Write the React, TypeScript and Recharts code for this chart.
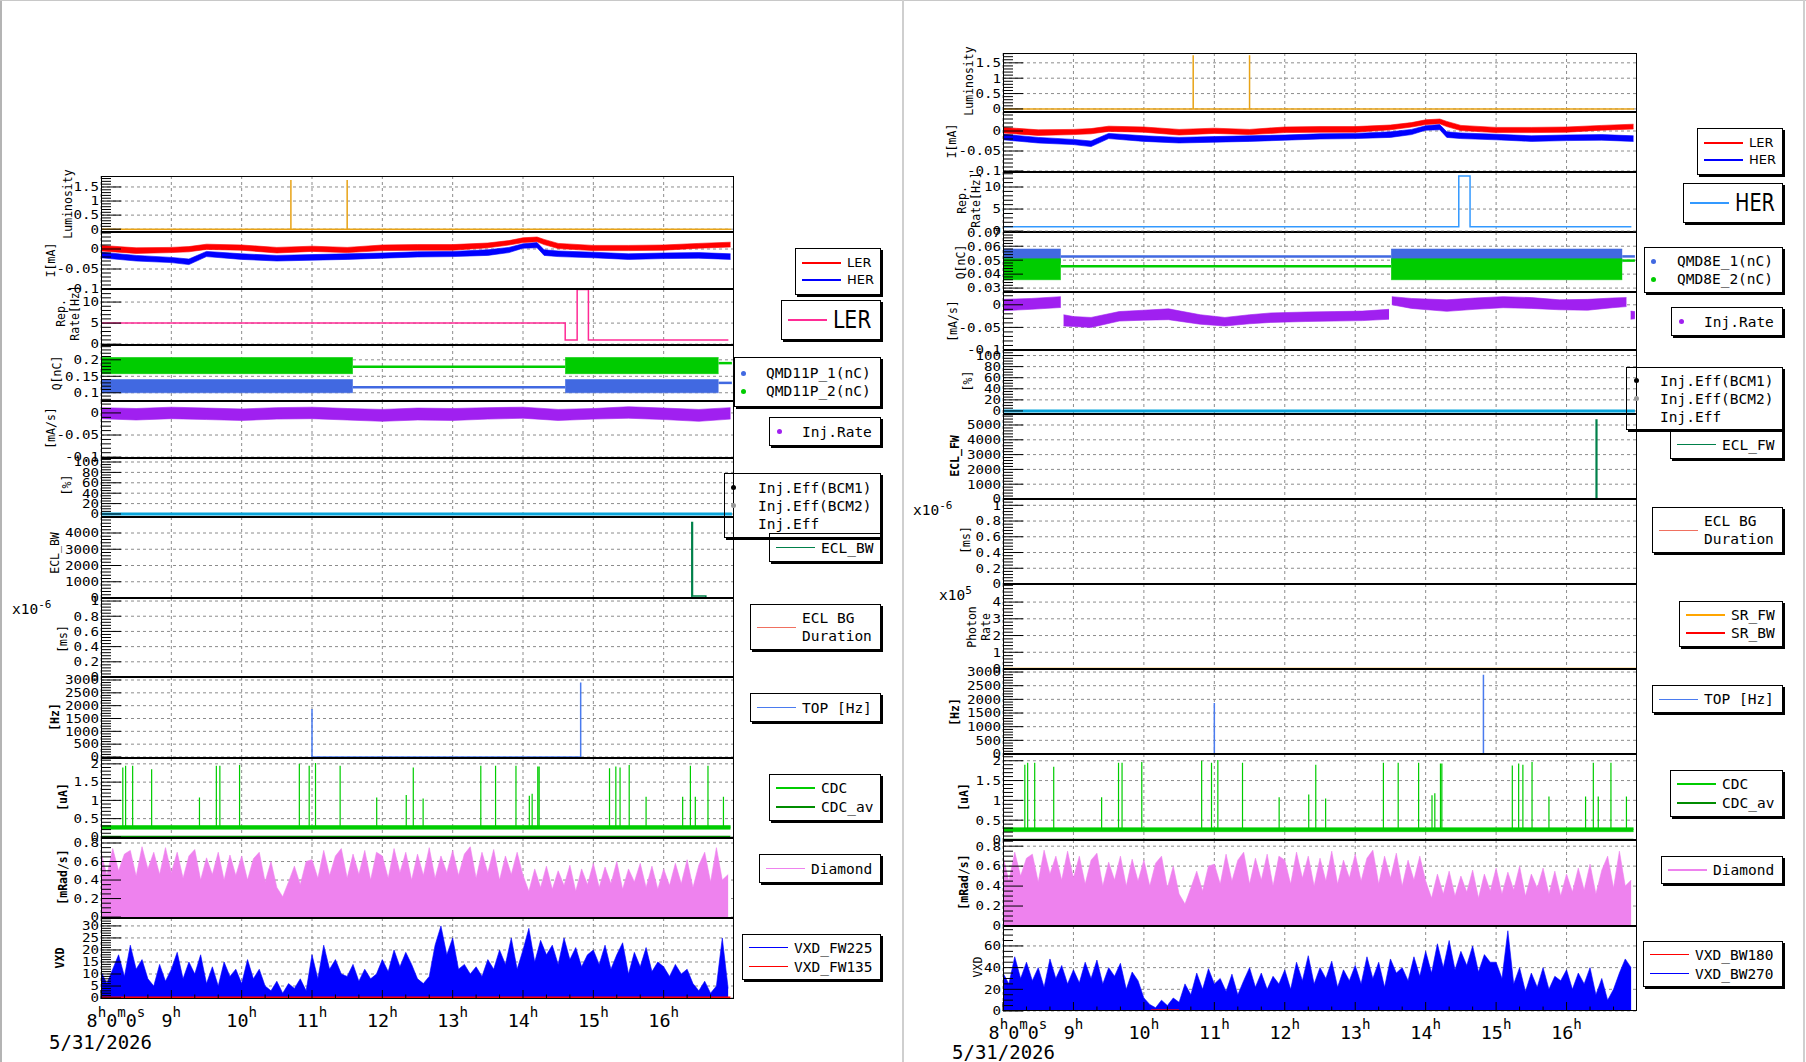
import React from "react";
import { ComposedChart, XAxis, YAxis, CartesianGrid, Line, Area } from "recharts";

const MONO = '"DejaVu Sans Mono", monospace';
const SANS = '"DejaVu Sans", sans-serif';

// ---- time axis (hours of the day) ----
const HOURS = [8, 9, 10, 11, 12, 13, 14, 15, 16, 17];
const HOUR_LABELS = ["8h0m0s", "9h", "10h", "11h", "12h", "13h", "14h", "15h", "16h", ""];
const DATE_LABEL = "5/31/2026";
const XTICKS = HOURS.flatMap((h) => (h < 17 ? [h, h + 1 / 3, h + 2 / 3] : [h]));

// ---- luminosity ----
const LUM_RANGE = [8.0, 16.96];
const LUM_SPIKE_T = [10.7, 11.5];
const LUM_SPIKE_V = [1.75, 1.75];

// ---- beam currents I[mA] (noisy bands) ----
const CUR_T = [8.0, 8.5, 9.0, 9.25, 9.5, 10.0, 10.5, 11.0, 11.5, 12.0, 12.5, 13.0, 13.5, 13.8, 14.0, 14.2, 14.3, 14.5, 15.0, 15.5, 16.0, 16.5, 16.95];
const LER_HI = [0.009, 0.003, 0.004, 0.006, 0.012, 0.010, 0.004, 0.007, 0.004, 0.010, 0.011, 0.011, 0.015, 0.021, 0.028, 0.030, 0.024, 0.014, 0.009, 0.009, 0.010, 0.014, 0.017];
const LER_LO = [-0.005, -0.011, -0.009, -0.007, -0.001, -0.003, -0.010, -0.006, -0.009, -0.004, -0.003, -0.003, 0.003, 0.010, 0.016, 0.018, 0.011, 0.001, -0.004, -0.004, -0.003, 0.002, 0.005];
const HER_HI = [-0.008, -0.016, -0.021, -0.025, -0.006, -0.012, -0.016, -0.014, -0.012, -0.010, -0.007, -0.006, -0.002, 0.004, 0.013, 0.016, -0.002, -0.005, -0.008, -0.012, -0.010, -0.009, -0.012];
const HER_LO = [-0.022, -0.030, -0.034, -0.039, -0.019, -0.026, -0.030, -0.028, -0.026, -0.023, -0.020, -0.019, -0.016, -0.009, 0.002, 0.003, -0.016, -0.019, -0.022, -0.026, -0.024, -0.023, -0.026];

// ---- repetition rate ----
const REP_LER_T = [8.0, 14.6, 14.6, 14.77, 14.77, 14.93, 14.93, 16.92];
const REP_LER_V = [5, 5, 1, 1, 13, 13, 1, 1];
const REP_HER_T = [8.0, 14.47, 14.47, 14.63, 14.63, 16.92];
const REP_HER_V = [1, 1, 12.5, 12.5, 1, 1];

// ---- bunch charge Q[nC] ----
const QL_BAND_SEGS = [[8.0, 11.58], [14.6, 16.78]];
const QL_FLAT_SEGS = [[11.58, 14.6], [16.78, 16.97]];
const QMD11P_1_BAND = [0.1, 0.14];
const QMD11P_1_FLAT = [0.1166, 0.13];
const QMD11P_2_BAND = [0.158, 0.207];
const QMD11P_2_FLAT = [0.179, 0.19];

const QR_BAND_SEGS = [[8.0, 8.82], [13.51, 16.79]];
const QR_FLAT_SEGS = [[8.82, 13.51], [16.79, 16.97]];
const QMD8E_1_BAND = [0.048, 0.058];
const QMD8E_1_FLAT = [0.0527, 0.0527];
const QMD8E_2_BAND = [0.036, 0.051];
const QMD8E_2_FLAT = [0.0457, 0.0497];

// ---- injection rate [mA/s] ----
const INJL_T = [8.0, 8.5, 9.0, 9.5, 10.0, 10.5, 11.0, 11.5, 12.0, 12.5, 13.0, 13.5, 14.0, 14.5, 15.0, 15.5, 16.0, 16.5, 16.95];
const INJL_HI = [0.012, 0.010, 0.013, 0.011, 0.009, 0.012, 0.013, 0.010, 0.008, 0.011, 0.010, 0.012, 0.013, 0.008, 0.010, 0.014, 0.011, 0.008, 0.012];
const INJL_LO = [-0.013, -0.016, -0.013, -0.015, -0.017, -0.014, -0.013, -0.016, -0.019, -0.016, -0.017, -0.014, -0.012, -0.017, -0.014, -0.012, -0.015, -0.019, -0.014];

const INJR1_T = [8.0, 8.4, 8.82];
const INJR1_HI = [0.012, 0.014, 0.018];
const INJR1_LO = [-0.013, -0.01, -0.006];
const INJR2_T = [8.86, 9.0, 9.25, 9.65, 10.0, 10.35, 10.8, 11.15, 11.5, 11.8, 12.3, 12.7, 13.1, 13.48];
const INJR2_HI = [-0.022, -0.026, -0.028, -0.015, -0.012, -0.009, -0.022, -0.028, -0.022, -0.018, -0.016, -0.015, -0.014, -0.01];
const INJR2_LO = [-0.047, -0.048, -0.05, -0.036, -0.034, -0.033, -0.043, -0.047, -0.042, -0.039, -0.037, -0.036, -0.035, -0.032];
const INJR3_T = [13.52, 13.8, 14.3, 14.7, 15.1, 15.5, 15.9, 16.3, 16.65, 16.85];
const INJR3_HI = [0.018, 0.014, 0.011, 0.015, 0.018, 0.016, 0.011, 0.012, 0.015, 0.016];
const INJR3_LO = [0.0, -0.008, -0.0145, -0.01, -0.0065, -0.008, -0.011, -0.012, -0.0065, -0.004];
const INJR4_T = [16.91, 16.97];
const INJR4_HI = [-0.014, -0.015];
const INJR4_LO = [-0.032, -0.031];

// ---- injection efficiency ----
const EFF_T = [8.0, 16.97];
const EFF_V = [0, 0];

// ---- ECL ----
const ECL_BW_T = [8.0, 16.4, 16.4, 16.41, 16.41, 16.6, 16.6, 16.97];
const ECL_BW_V = [0, 0, 4650, 4650, 120, 120, 0, 0];
const ECL_FW_T = [8.0, 16.42, 16.42, 16.43, 16.43, 16.97];
const ECL_FW_V = [0, 0, 5330, 5330, 0, 0];

// ---- SR photon rate ----
const SR_FW_T = [8.0, 17.0];
const SR_FW_V = [0, 0];

// ---- TOP ----
const TOP_T = [11.0, 11.0, 11.0, 14.82, 14.82];
const TOP_V = [0, 1870, 0, 0, 2900];

// ---- CDC ----
const CDC_RANGE = [8.0, 16.95];
const CDC_BASE = [0.21, 0.31];
const CDC_LEVEL = 0.27;
const CDC_AV_V = [0.005, 0.005];
const CDC_SPIKE_T = [8.31, 8.35, 8.45, 8.72, 9.4, 9.64, 9.69, 9.97, 10.82, 10.96, 11.05, 11.4, 11.92, 12.34, 12.44, 12.58, 13.4, 13.61, 13.9, 14.09, 14.13, 14.21, 14.23, 15.23, 15.32, 15.38, 15.51, 15.75, 16.27, 16.38, 16.45, 16.63, 16.85];
const CDC_SPIKE_V = [1.9, 1.95, 1.95, 1.85, 1.08, 1.95, 1.95, 1.97, 2.0, 1.95, 2.02, 1.95, 1.08, 1.15, 1.9, 1.05, 1.95, 1.95, 1.95, 1.13, 1.18, 1.93, 1.93, 1.88, 1.93, 1.9, 1.97, 1.1, 1.1, 1.95, 1.1, 1.95, 1.1];

// ---- Diamond dose rate, 5-minute envelope from 8:00 ----
const SAMPLE_START = 8;
const SAMPLE_MIN = 5;
const DIAMOND = [
  0.70, 0.45, 0.74, 0.50, 0.68, 0.72, 0.44, 0.76, 0.52, 0.70, 0.46, 0.75,
  0.48, 0.70, 0.42, 0.66, 0.73, 0.40, 0.64, 0.46, 0.70, 0.40, 0.67, 0.45,
  0.66, 0.40, 0.63, 0.70, 0.38, 0.60, 0.32, 0.22, 0.38, 0.55, 0.35, 0.60,
  0.62, 0.42, 0.72, 0.45, 0.66, 0.74, 0.42, 0.68, 0.46, 0.72, 0.40, 0.70,
  0.66, 0.42, 0.74, 0.48, 0.70, 0.40, 0.68, 0.45, 0.75, 0.42, 0.66, 0.48,
  0.72, 0.45, 0.68, 0.76, 0.42, 0.70, 0.48, 0.73, 0.40, 0.66, 0.46, 0.70,
  0.45, 0.28, 0.52, 0.32, 0.55, 0.30, 0.50, 0.34, 0.56, 0.28, 0.52, 0.35,
  0.58, 0.32, 0.54, 0.36, 0.60, 0.30, 0.52, 0.38, 0.58, 0.32, 0.55, 0.30,
  0.52, 0.34, 0.58, 0.36, 0.62, 0.32, 0.56, 0.70, 0.38, 0.75, 0.40, 0.46,
];

// ---- VXD, 5-minute envelope from 8:00 ----
const VXD_FW225 = [
  11, 6, 12, 18, 9, 22, 12, 16, 8, 5, 14, 7,
  12, 19, 8, 15, 10, 18, 6, 13, 5, 15, 9, 12,
  6, 16, 8, 12, 5, 3, 7, 2, 6, 4, 8, 3,
  18, 8, 22, 12, 16, 10, 9, 14, 7, 12, 8, 10,
  16, 11, 20, 13, 19, 14, 8, 6, 9, 22, 30, 18,
  25, 12, 14, 10, 13, 9, 16, 12, 20, 14, 25, 12,
  20, 29, 15, 24, 18, 22, 14, 25, 16, 21, 13, 18,
  20, 14, 22, 12, 18, 23, 10, 19, 13, 21, 11, 15,
  13, 9, 14, 10, 12, 6, 3, 7, 2, 5, 25, 4,
];
const VXD_FW135_V = [0, 0];
const VXD_BW270 = [
  35, 25, 50, 30, 45, 28, 40, 22, 48, 30, 42, 25,
  38, 26, 45, 30, 47, 25, 40, 32, 44, 20, 36, 28,
  12, 6, 3, 10, 5, 12, 8, 25, 15, 35, 20, 39,
  25, 30, 18, 34, 15, 28, 40, 22, 35, 20, 32, 25,
  38, 20, 45, 28, 51, 25, 40, 30, 46, 22, 38, 28,
  42, 25, 50, 30, 45, 22, 48, 35, 40, 28, 50, 32,
  55, 35, 62, 40, 65, 38, 55, 42, 60, 36, 52, 45,
  45, 30, 74, 25, 40, 18, 35, 22, 40, 20, 32, 28,
  38, 20, 35, 25, 40, 15, 30, 10, 20, 35, 48, 40,
];
const VXD_BW180_T = [10.1, 10.5];
const VXD_BW180_V = [0.6, 0.6];

const C = {
  lum: "#e8a317", ler: "#ff0000", her: "#0000ff", repLer: "#ff2b95", repHer: "#3399ff",
  q1: "#4169e1", q2: "#00cc00", inj: "#a020f0", eff: "#0aa6dc", ecl: "#00804a",
  eclbg: "#f07060", top: "#4a7bef", cdc: "#00cc00", cdcAv: "#008c00", dia: "#ee82ee",
  vxdB: "#0000ff", vxdR: "#ff0000", srFw: "#ffa500", srBw: "#ff0000",
};

// ---- data table builders ----
const pts = (t: number[], v: number[]) => t.map((x, i) => ({ t: x, v: v[i] }));
const band = (t: number[], lo: number[], hi: number[]) => t.map((x, i) => ({ t: x, r: [lo[i], hi[i]] }));
const rect = (seg: number[], lh: number[]) => seg.map((x) => ({ t: x, r: [lh[0], lh[1]] }));
const flat = (seg: number[], v: number) => seg.map((x) => ({ t: x, v }));
const sampled = (vals: number[]) => vals.map((v, i) => ({ t: SAMPLE_START + (i * SAMPLE_MIN) / 60, v }));
function spikeLine(range: number[], ts: number[], vs: number[], base: number) {
  const out = [{ t: range[0], v: base }];
  ts.forEach((t, i) => out.push({ t, v: base }, { t, v: vs[i] }, { t, v: base }));
  out.push({ t: range[1], v: base });
  return out;
}

const LUM_DATA = spikeLine(LUM_RANGE, LUM_SPIKE_T, LUM_SPIKE_V, 0);
const LER_DATA = band(CUR_T, LER_LO, LER_HI);
const HER_DATA = band(CUR_T, HER_LO, HER_HI);
const CDC_DATA = spikeLine(CDC_RANGE, CDC_SPIKE_T, CDC_SPIKE_V, CDC_LEVEL);
const CDC_BAND = rect(CDC_RANGE, CDC_BASE);
const CDC_AV = pts(CDC_RANGE, CDC_AV_V);
const DIA_DATA = sampled(DIAMOND);

// ---- series element helpers ----
const ln = (key: string, data: any[], color: string, w = 1) => (
  <Line key={key} data={data} dataKey="v" type="linear" stroke={color} strokeWidth={w} dot={false} isAnimationActive={false} />
);
const rng = (key: string, data: any[], color: string) => (
  <Area key={key} data={data} dataKey="r" type="linear" stroke={color} strokeWidth={0.6} fill={color} fillOpacity={1} isAnimationActive={false} />
);
const fill = (key: string, data: any[], color: string) => (
  <Area key={key} data={data} dataKey="v" type="linear" baseValue={0} stroke={color} strokeWidth={0.6} fill={color} fillOpacity={1} isAnimationActive={false} />
);

// ---- axes ----
const fmt = (v: number) => String(Math.round(v * 1e6) / 1e6);
function buildTicks(d: number[], step: number) {
  const out: number[] = [];
  for (let k = Math.ceil(d[0] / step - 1e-9); k * step <= d[1] + 1e-9; k++) out.push(Math.round(k * step * 1e6) / 1e6);
  return out;
}

function YTick(props: any) {
  const { x, y, payload, majors, fs } = props;
  const v = payload.value;
  const major = majors.some((m: number) => Math.abs(m - v) < 1e-9);
  return (
    <g>
      <line x1={x} x2={x + (major ? 20 : 10)} y1={y} y2={y} stroke="#000" strokeWidth={1} />
      {major && (
        <text transform={`translate(${x - 2},${y}) scale(1.18,1)`} dy="0.36em" textAnchor="end" fontFamily={MONO} fontSize={fs} fill="#000">
          {fmt(v)}
        </text>
      )}
    </g>
  );
}

function XTick(props: any) {
  const { x, y, payload, showLabel } = props;
  const v = payload.value;
  const hour = Math.abs(v - Math.round(v)) < 1e-6;
  const idx = HOURS.indexOf(Math.round(v));
  const label = showLabel && hour && idx >= 0 ? HOUR_LABELS[idx] : "";
  const parts = label ? Array.from(label.matchAll(/(\d+)([hms])/g)) : [];
  return (
    <g>
      <line x1={x} x2={x} y1={y} y2={y - (hour ? 9 : 4.5)} stroke="#000" />
      {parts.length > 0 && (
        <text transform={`translate(${x + (idx === 0 ? 15 : 0)},${y + 28}) scale(1.05,1)`} textAnchor="middle" fontFamily={MONO} fontSize={17.5} fill="#000">
          {parts.flatMap((m, i) => [
            <tspan key={`n${i}`} dy={i === 0 ? 0 : 10}>{m[1]}</tspan>,
            <tspan key={`s${i}`} dy={-10} fontSize={13.5}>{m[2]}</tspan>,
          ])}
        </text>
      )}
    </g>
  );
}

const AXW = 70;
const PAD = 12;
type PanelProps = {
  x0: number; x1: number; y0: number; y1: number;
  domain: number[]; majors: number[]; minor: number;
  fs?: number; bottomAxis?: boolean; series: React.ReactNode[];
};

function Panel({ x0, x1, y0, y1, domain, majors, minor, fs = 12, bottomAxis = false, series }: PanelProps) {
  const w = x1 - x0;
  const h = y1 - y0;
  const extra = bottomAxis ? 40 : 0;
  const yticks = buildTicks(domain, minor);
  return (
    <>
      <div style={{ position: "absolute", left: x0 - AXW, top: y0 - PAD }}>
        <ComposedChart width={w + AXW} height={h + extra + 2 * PAD} margin={{ top: PAD, right: 0, bottom: PAD, left: 0 }}>
          <CartesianGrid stroke="#8c8c8c" strokeDasharray="3 3" horizontalValues={majors} verticalValues={HOURS} />
          <XAxis type="number" dataKey="t" domain={[8, 17]} ticks={XTICKS} interval={0} height={extra}
            axisLine={false} tickLine={false} tickSize={0} tickMargin={0} allowDataOverflow
            tick={(p: any) => <XTick {...p} showLabel={bottomAxis} />} />
          <YAxis type="number" domain={domain} ticks={yticks} interval={0} width={AXW}
            axisLine={false} tickLine={false} tickSize={0} tickMargin={0} allowDataOverflow
            tick={(p: any) => <YTick {...p} majors={majors} fs={fs} />} />
          {series}
        </ComposedChart>
      </div>
      <div style={{ position: "absolute", left: x0, top: y0, width: w, height: h, border: "1px solid #000", boxSizing: "border-box", pointerEvents: "none" }} />
    </>
  );
}

function YLabel({ cx, cy, text, bold = false, fs = 11.5 }: { cx: number; cy: number; text: string; bold?: boolean; fs?: number }) {
  return (
    <div style={{ position: "absolute", left: cx, top: cy, transform: "translate(-50%,-50%) rotate(-90deg)", fontFamily: MONO, fontSize: fs, fontWeight: bold ? "bold" : "normal", whiteSpace: "pre", textAlign: "center", lineHeight: "14px", color: "#000" }}>
      {text}
    </div>
  );
}

type LegItem = { label: string; color?: string; kind: "line" | "dot" | "none"; lw?: number };
function LegendBox({ x, y, w, h, items, fs = 14.5, font = MONO, rowH = 18, dotLeft = 5, textDot = 30, squeeze = 1 }: {
  x: number; y: number; w: number; h: number; items: LegItem[]; fs?: number; font?: string; rowH?: number; dotLeft?: number; textDot?: number; squeeze?: number;
}) {
  return (
    <div style={{ position: "absolute", left: x, top: y, width: w, height: h, border: "1px solid #000", boxShadow: "2px 2px 0 #000", boxSizing: "border-box", display: "flex", flexDirection: "column", justifyContent: "center" }}>
      {items.map((it, i) => (
        <div key={i} style={{ height: rowH, position: "relative" }}>
          {it.kind === "line" && (
            <div style={{ position: "absolute", left: 6, width: 39, top: rowH / 2 - (it.lw ?? 1.5) / 2, height: it.lw ?? 1.5, background: it.color }} />
          )}
          {it.kind === "dot" && (
            <div style={{ position: "absolute", left: dotLeft, top: rowH / 2 - 2.5, width: 5, height: 5, borderRadius: 3, background: it.color }} />
          )}
          <div style={{ position: "absolute", left: it.kind === "line" ? 51 : textDot, top: 0, height: rowH, display: "flex", alignItems: "center", fontFamily: font, fontSize: fs, lineHeight: "18px", whiteSpace: "pre", color: "#000", transform: `scaleX(${squeeze})`, transformOrigin: "left center" }}>
            {it.label}
          </div>
        </div>
      ))}
    </div>
  );
}

function Exp({ x, y, base, exp }: { x: number; y: number; base: string; exp: string }) {
  return (
    <div style={{ position: "absolute", left: x, top: y, fontFamily: MONO, fontSize: 14.5, color: "#000", whiteSpace: "pre" }}>
      {base}
      <sup style={{ fontSize: 11 }}>{exp}</sup>
    </div>
  );
}

const LX0 = 101, LX1 = 734, RX0 = 1003, RX1 = 1637;

export default function App() {
  return (
    <div style={{ position: "absolute", left: 0, top: 0, width: 1806, height: 1062, background: "#fff", overflow: "hidden" }}>
      <div style={{ position: "absolute", left: 0, top: 0, width: 2, height: 1062, background: "#b4b4b4" }} />
      <div style={{ position: "absolute", left: 0, top: 0, width: 1806, height: 1, background: "#c8c8c8" }} />
      <div style={{ position: "absolute", left: 902, top: 0, width: 2, height: 1062, background: "#cfcfcf" }} />
      <div style={{ position: "absolute", left: 1803, top: 0, width: 2, height: 1062, background: "#cfcfcf" }} />

      {/* ===== left column ===== */}
      <Panel x0={LX0} x1={LX1} y0={176} y1={232} domain={[-0.1, 1.89]} majors={[0, 0.5, 1, 1.5]} minor={0.1}
        series={[ln("lum", LUM_DATA, C.lum, 1.5)]} />
      <Panel x0={LX0} x1={LX1} y0={232} y1={289} domain={[-0.1, 0.0425]} majors={[-0.1, -0.05, 0]} minor={0.01}
        series={[rng("ler", LER_DATA, C.ler), rng("her", HER_DATA, C.her)]} />
      <Panel x0={LX0} x1={LX1} y0={289} y1={345} domain={[-0.2, 13.1]} majors={[0, 5, 10]} minor={1}
        series={[ln("rep", pts(REP_LER_T, REP_LER_V), C.repLer, 1.5)]} />
      <Panel x0={LX0} x1={LX1} y0={345} y1={401} domain={[0.075, 0.245]} majors={[0.1, 0.15, 0.2]} minor={0.01}
        series={[
          ...QL_BAND_SEGS.map((s, i) => rng(`q1b${i}`, rect(s, QMD11P_1_BAND), C.q1)),
          ...QL_FLAT_SEGS.map((s, i) => ln(`q1f${i}`, flat(s, QMD11P_1_FLAT[i]), C.q1, 2.5)),
          ...QL_BAND_SEGS.map((s, i) => rng(`q2b${i}`, rect(s, QMD11P_2_BAND), C.q2)),
          ...QL_FLAT_SEGS.map((s, i) => ln(`q2f${i}`, flat(s, QMD11P_2_FLAT[i]), C.q2, 2.5)),
        ]} />
      <Panel x0={LX0} x1={LX1} y0={401} y1={458} domain={[-0.102, 0.027]} majors={[-0.1, -0.05, 0]} minor={0.01}
        series={[rng("inj", band(INJL_T, INJL_LO, INJL_HI), C.inj)]} />
      <Panel x0={LX0} x1={LX1} y0={458} y1={517} domain={[-5.8, 107.7]} majors={[0, 20, 40, 60, 80, 100]} minor={5}
        series={[ln("eff", pts(EFF_T, EFF_V), C.eff, 3)]} />
      <Panel x0={LX0} x1={LX1} y0={517} y1={598} domain={[0, 4985]} majors={[0, 1000, 2000, 3000, 4000]} minor={200}
        series={[ln("eclbw", pts(ECL_BW_T, ECL_BW_V), C.ecl, 1.5)]} />
      <Panel x0={LX0} x1={LX1} y0={598} y1={677} domain={[0, 1.04]} majors={[0, 0.2, 0.4, 0.6, 0.8, 1]} minor={0.04} series={[]} />
      <Panel x0={LX0} x1={LX1} y0={677} y1={758} domain={[-39, 3117]} majors={[0, 500, 1000, 1500, 2000, 2500, 3000]} minor={100}
        series={[ln("top", pts(TOP_T, TOP_V), C.top, 1.5)]} />
      <Panel x0={LX0} x1={LX1} y0={758} y1={838} domain={[-0.03, 2.16]} majors={[0, 0.5, 1, 1.5, 2]} minor={0.1}
        series={[rng("cdcb", CDC_BAND, C.cdc), ln("cdc", CDC_DATA, C.cdc, 1.2), ln("cdcav", CDC_AV, C.cdcAv, 2)]} />
      <Panel x0={LX0} x1={LX1} y0={838} y1={918} domain={[-0.01, 0.854]} majors={[0, 0.2, 0.4, 0.6, 0.8]} minor={0.05}
        series={[fill("dia", DIA_DATA, C.dia)]} />
      <Panel x0={LX0} x1={LX1} y0={918} y1={999} domain={[-0.4, 33.3]} majors={[0, 5, 10, 15, 20, 25, 30]} minor={1} bottomAxis
        series={[fill("vxd", sampled(VXD_FW225), C.vxdB), ln("vxdr", pts(CDC_RANGE, VXD_FW135_V), C.vxdR, 3)]} />

      {/* ===== right column ===== */}
      <Panel x0={RX0} x1={RX1} y0={53} y1={112} domain={[-0.1, 1.82]} majors={[0, 0.5, 1, 1.5]} minor={0.1}
        series={[ln("lum", LUM_DATA, C.lum, 1.5)]} />
      <Panel x0={RX0} x1={RX1} y0={112} y1={172} domain={[-0.1025, 0.0475]} majors={[-0.1, -0.05, 0]} minor={0.01}
        series={[rng("ler", LER_DATA, C.ler), rng("her", HER_DATA, C.her)]} />
      <Panel x0={RX0} x1={RX1} y0={172} y1={232} domain={[-0.2, 13.4]} majors={[0, 5, 10]} minor={1}
        series={[ln("rep", pts(REP_HER_T, REP_HER_V), C.repHer, 1.5)]} />
      <Panel x0={RX0} x1={RX1} y0={232} y1={292} domain={[0.0272, 0.0702]} majors={[0.03, 0.04, 0.05, 0.06, 0.07]} minor={0.002}
        series={[
          ...QR_BAND_SEGS.map((s, i) => rng(`q1b${i}`, rect(s, QMD8E_1_BAND), C.q1)),
          ...QR_FLAT_SEGS.map((s, i) => ln(`q1f${i}`, flat(s, QMD8E_1_FLAT[i]), C.q1, 2.5)),
          ...QR_BAND_SEGS.map((s, i) => rng(`q2b${i}`, rect(s, QMD8E_2_BAND), C.q2)),
          ...QR_FLAT_SEGS.map((s, i) => ln(`q2f${i}`, flat(s, QMD8E_2_FLAT[i]), C.q2, 2.5)),
        ]} />
      <Panel x0={RX0} x1={RX1} y0={292} y1={350} domain={[-0.1, 0.0283]} majors={[-0.1, -0.05, 0]} minor={0.01}
        series={[
          rng("i1", band(INJR1_T, INJR1_LO, INJR1_HI), C.inj),
          rng("i2", band(INJR2_T, INJR2_LO, INJR2_HI), C.inj),
          rng("i3", band(INJR3_T, INJR3_LO, INJR3_HI), C.inj),
          rng("i4", band(INJR4_T, INJR4_LO, INJR4_HI), C.inj),
        ]} />
      <Panel x0={RX0} x1={RX1} y0={350} y1={414} domain={[-5.5, 110]} majors={[0, 20, 40, 60, 80, 100]} minor={5}
        series={[ln("eff", pts(EFF_T, EFF_V), C.eff, 3)]} />
      <Panel x0={RX0} x1={RX1} y0={414} y1={499} domain={[0, 5743]} majors={[0, 1000, 2000, 3000, 4000, 5000]} minor={200}
        series={[ln("eclfw", pts(ECL_FW_T, ECL_FW_V), C.ecl, 1.5)]} />
      <Panel x0={RX0} x1={RX1} y0={499} y1={584} domain={[0, 1.08]} majors={[0, 0.2, 0.4, 0.6, 0.8, 1]} minor={0.04} series={[]} />
      <Panel x0={RX0} x1={RX1} y0={584} y1={669} domain={[0, 5.08]} majors={[0, 1, 2, 3, 4]} minor={0.2}
        series={[ln("sr", pts(SR_FW_T, SR_FW_V), C.srFw, 2.5)]} />
      <Panel x0={RX0} x1={RX1} y0={669} y1={754} domain={[0, 3111]} majors={[0, 500, 1000, 1500, 2000, 2500, 3000]} minor={100}
        series={[ln("top", pts(TOP_T, TOP_V), C.top, 1.5)]} />
      <Panel x0={RX0} x1={RX1} y0={754} y1={840} domain={[0, 2.17]} majors={[0, 0.5, 1, 1.5, 2]} minor={0.1}
        series={[rng("cdcb", CDC_BAND, C.cdc), ln("cdc", CDC_DATA, C.cdc, 1.2), ln("cdcav", CDC_AV, C.cdcAv, 2)]} />
      <Panel x0={RX0} x1={RX1} y0={840} y1={926} domain={[0, 0.862]} majors={[0, 0.2, 0.4, 0.6, 0.8]} minor={0.05}
        series={[fill("dia", DIA_DATA, C.dia)]} />
      <Panel x0={RX0} x1={RX1} y0={926} y1={1011} domain={[0, 78.4]} majors={[0, 20, 40, 60]} minor={5} bottomAxis
        series={[fill("vxd", sampled(VXD_BW270), C.vxdB), ln("vxdr", pts(VXD_BW180_T, VXD_BW180_V), C.vxdR, 2)]} />

      {/* axis titles */}
      <YLabel cx={68} cy={204} text="Luminosity" />
      <YLabel cx={51} cy={260} text="I[mA]" />
      <YLabel cx={68} cy={313} text={"Rep.\nRate[Hz]"} />
      <YLabel cx={57} cy={373} text="Q[nC]" />
      <YLabel cx={51} cy={428} text="[mA/s]" />
      <YLabel cx={67} cy={485} text="[%]" />
      <YLabel cx={55} cy={553} text="ECL_BW" />
      <YLabel cx={63} cy={639} text="[ms]" />
      <YLabel cx={55} cy={717} text="[Hz]" bold />
      <YLabel cx={63} cy={797} text="[uA]" bold />
      <YLabel cx={63} cy={877} text="[mRad/s]" bold />
      <YLabel cx={60} cy={958} text="VXD" bold />

      <YLabel cx={969} cy={81} text="Luminosity" />
      <YLabel cx={952} cy={141} text="I[mA]" />
      <YLabel cx={969} cy={200} text={"Rep.\nRate[Hz]"} />
      <YLabel cx={961} cy={262} text="Q[nC]" />
      <YLabel cx={953} cy={321} text="[mA/s]" />
      <YLabel cx={968} cy={381} text="[%]" />
      <YLabel cx={955} cy={456} text="ECL_FW" bold />
      <YLabel cx={966} cy={540} text="[ms]" />
      <YLabel cx={979} cy={627} text={"Photon\nRate"} />
      <YLabel cx={955} cy={712} text="[Hz]" bold />
      <YLabel cx={964} cy={797} text="[uA]" bold />
      <YLabel cx={964} cy={882} text="[mRad/s]" bold />
      <YLabel cx={978} cy={967} text="VXD" />

      <Exp x={12} y={598} base="x10" exp="-6" />
      <Exp x={913} y={499} base="x10" exp="-6" />
      <Exp x={939} y={584} base="x10" exp="5" />

      <div style={{ position: "absolute", left: 49, top: 1031, fontFamily: MONO, fontSize: 19, color: "#000" }}>{DATE_LABEL}</div>
      <div style={{ position: "absolute", left: 952, top: 1041, fontFamily: MONO, fontSize: 19, color: "#000" }}>{DATE_LABEL}</div>

      {/* legends, left */}
      <LegendBox x={795} y={248} w={86} h={47} font={SANS} fs={13} rowH={17}
        items={[{ label: "LER", color: C.ler, kind: "line", lw: 2 }, { label: "HER", color: C.her, kind: "line", lw: 2 }]} />
      <LegendBox x={781} y={300} w={100} h={40} font={SANS} fs={24} rowH={30} squeeze={0.85}
        items={[{ label: "LER", color: C.repLer, kind: "line", lw: 1.5 }]} />
      <LegendBox x={734} y={357} w={147} h={50} rowH={18} dotLeft={6} textDot={31}
        items={[{ label: "QMD11P_1(nC)", color: C.q1, kind: "dot" }, { label: "QMD11P_2(nC)", color: C.q2, kind: "dot" }]} />
      <LegendBox x={769} y={417} w={112} h={29} dotLeft={7} textDot={32}
        items={[{ label: "Inj.Rate", color: C.inj, kind: "dot" }]} />
      <LegendBox x={724} y={473} w={157} h={65} dotLeft={6} textDot={33}
        items={[{ label: "Inj.Eff(BCM1)", color: "#000", kind: "dot" }, { label: "Inj.Eff(BCM2)", color: "#999", kind: "dot" }, { label: "Inj.Eff", kind: "none" }]} />
      <LegendBox x={769} y={533} w={112} h={29}
        items={[{ label: "ECL_BW", color: C.ecl, kind: "line" }]} />
      <LegendBox x={750} y={604} w={131} h={46} rowH={36}
        items={[{ label: "ECL BG\nDuration", color: C.eclbg, kind: "line", lw: 1 }]} />
      <LegendBox x={750} y={693} w={131} h={29}
        items={[{ label: "TOP [Hz]", color: C.top, kind: "line", lw: 1 }]} />
      <LegendBox x={769} y={774} w={112} h={47} rowH={19}
        items={[{ label: "CDC", color: C.cdc, kind: "line" }, { label: "CDC_av", color: C.cdcAv, kind: "line" }]} />
      <LegendBox x={759} y={854} w={122} h={29}
        items={[{ label: "Diamond", color: C.dia, kind: "line" }]} />
      <LegendBox x={742} y={934} w={139} h={46} rowH={19}
        items={[{ label: "VXD_FW225", color: C.vxdB, kind: "line" }, { label: "VXD_FW135", color: C.vxdR, kind: "line" }]} />

      {/* legends, right */}
      <LegendBox x={1697} y={128} w={86} h={47} font={SANS} fs={13} rowH={17}
        items={[{ label: "LER", color: C.ler, kind: "line", lw: 2 }, { label: "HER", color: C.her, kind: "line", lw: 2 }]} />
      <LegendBox x={1683} y={183} w={100} h={40} font={SANS} fs={24} rowH={30} squeeze={0.8}
        items={[{ label: "HER", color: C.repHer, kind: "line", lw: 1.5 }]} />
      <LegendBox x={1644} y={247} w={139} h={46} rowH={18} dotLeft={6} textDot={32}
        items={[{ label: "QMD8E_1(nC)", color: C.q1, kind: "dot" }, { label: "QMD8E_2(nC)", color: C.q2, kind: "dot" }]} />
      <LegendBox x={1671} y={307} w={112} h={29} dotLeft={7} textDot={32}
        items={[{ label: "Inj.Rate", color: C.inj, kind: "dot" }]} />
      <LegendBox x={1626} y={367} w={157} h={63} dotLeft={7} textDot={33}
        items={[{ label: "Inj.Eff(BCM1)", color: "#000", kind: "dot" }, { label: "Inj.Eff(BCM2)", color: "#999", kind: "dot" }, { label: "Inj.Eff", kind: "none" }]} />
      <LegendBox x={1670} y={430} w={113} h={29}
        items={[{ label: "ECL_FW", color: C.ecl, kind: "line" }]} />
      <LegendBox x={1652} y={507} w={131} h={46} rowH={36}
        items={[{ label: "ECL BG\nDuration", color: C.eclbg, kind: "line", lw: 1 }]} />
      <LegendBox x={1679} y={601} w={104} h={46} rowH={18}
        items={[{ label: "SR_FW", color: C.srFw, kind: "line" }, { label: "SR_BW", color: C.srBw, kind: "line" }]} />
      <LegendBox x={1652} y={685} w={131} h={28}
        items={[{ label: "TOP [Hz]", color: C.top, kind: "line", lw: 1 }]} />
      <LegendBox x={1670} y={770} w={113} h={47} rowH={19}
        items={[{ label: "CDC", color: C.cdc, kind: "line" }, { label: "CDC_av", color: C.cdcAv, kind: "line" }]} />
      <LegendBox x={1661} y={856} w={122} h={28}
        items={[{ label: "Diamond", color: C.dia, kind: "line" }]} />
      <LegendBox x={1643} y={941} w={140} h={46} rowH={19}
        items={[{ label: "VXD_BW180", color: C.vxdR, kind: "line" }, { label: "VXD_BW270", color: C.vxdB, kind: "line" }]} />
    </div>
  );
}
